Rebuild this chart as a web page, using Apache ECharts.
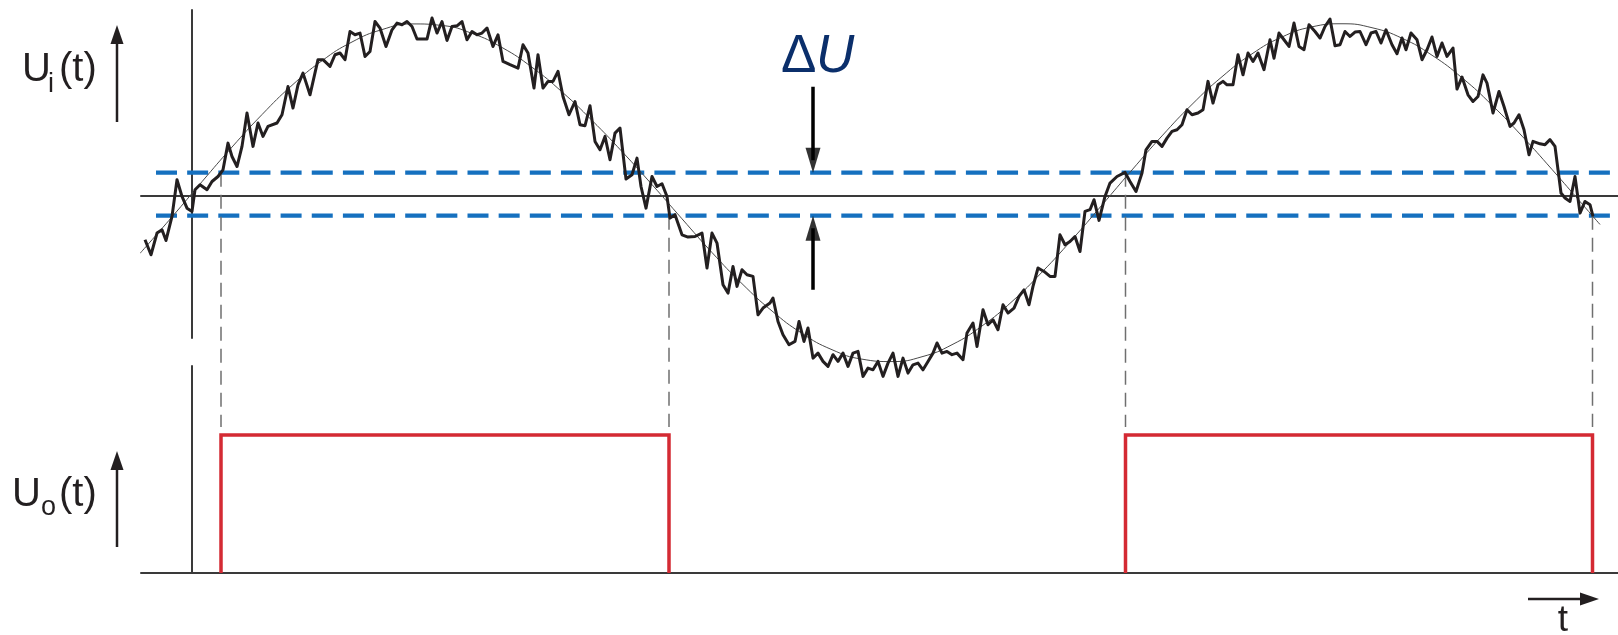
<!DOCTYPE html>
<html>
<head>
<meta charset="utf-8">
<script src="https://cdn.jsdelivr.net/npm/echarts@6/dist/echarts.min.js"></script>
<style>
html,body{margin:0;padding:0;background:#ffffff;}
#chart{width:1618px;height:635px;}
</style>
</head>
<body>
<div id="chart"></div>
<script>
// ---------- DATA (time t in arbitrary units, voltage U in % of amplitude) ----------
// noisy input signal U_i(t): vertices
const noisyT = [
-4.7,-4.1,-3.5,-3.0,-2.6,-2.0,-1.5,-1.0,-0.5,0.0,0.3,0.8,1.5,2.0,2.6,3.1,3.6,4.0,4.5,5.0,
5.5,6.1,6.6,7.1,7.6,8.5,9.0,9.6,10.1,10.6,11.1,11.8,12.6,13.1,13.8,14.3,14.8,15.3,15.8,16.3,
16.8,17.3,17.8,18.3,18.8,19.4,20.0,20.5,21.0,21.5,22.0,22.5,23.5,24.0,24.5,25.0,25.5,26.0,26.5,27.0,
27.5,28.0,28.5,29.0,29.5,30.1,30.6,31.1,31.8,32.6,33.1,33.6,34.2,34.6,35.1,35.6,
36.1,36.6,37.1,37.7,38.3,38.8,39.3,39.8,40.3,40.8,41.3,41.8,42.3,42.8,43.4,44.0,44.5,44.9,45.4,46.0,
46.5,47.0,47.5,47.8,48.3,49.0,49.6,50.3,51.0,51.5,52.0,52.5,53.1,53.6,54.1,54.5,55.0,55.5,56.1,56.6,
57.1,57.8,58.1,58.6,59.1,59.7,60.3,60.7,61.2,61.6,62.1,62.6,63.1,63.6,64.1,64.6,65.1,65.6,66.1,66.6,
67.1,67.6,68.1,68.6,69.1,69.6,70.1,70.6,71.1,71.6,72.1,72.6,73.1,73.6,74.1,74.5,75.0,
75.5,76.0,76.5,77.1,77.5,78.1,78.5,79.1,79.6,80.1,80.6,81.1,81.6,82.2,82.7,83.2,83.7,84.1,84.6,85.2,
85.8,86.3,86.8,87.3,87.8,88.3,88.8,89.3,89.8,90.2,90.7,91.3,91.8,92.5,93.3,93.8,94.4,95.0,95.4,96.0,
96.5,97.0,97.5,98.0,98.5,99.0,99.5,100.0,100.6,101.1,101.6,102.1,102.6,103.1,103.5,104.1,104.6,105.1,105.6,106.1,
106.6,107.2,107.8,108.2,108.7,109.2,109.7,110.2,110.7,
111.2,111.7,112.3,112.8,113.3,113.8,114.3,114.8,115.3,115.8,116.3,116.8,117.4,117.9,118.4,118.9,119.4,120.0,120.5,121.0,
121.4,121.9,122.5,123.0,123.5,124.0,124.5,125.0,125.5,126.1,126.5,127.0,127.6,128.1,128.6,129.1,129.5,130.1,130.7,131.2,
131.8,132.2,132.7,133.2,133.7,134.1,134.8,135.3,135.8,136.3,136.9,137.3,137.8,138.3,138.8,139.3,139.8,140.1
];
const noisyU = [
-25.6,-34.3,-21.7,-19.8,-26.0,-12.0,9.3,-0.4,-7.2,-9.1,3.5,6.4,3.5,8.3,11.2,15.1,30.6,22.8,17.0,28.7,
48.1,28.7,42.3,34.5,40.3,42.3,47.1,63.5,51.0,64.5,71.3,58.7,79.1,79.1,75.2,82.0,83.0,79.1,95.5,93.6,
94.6,81.0,83.9,101.3,97.5,86.8,96.5,100.4,99.4,101.3,98.4,91.1,91.1,103.3,94.6,101.3,90.3,98.4,98.8,101.3,
90.7,95.5,93.6,94.6,97.5,86.8,93.6,78.1,76.2,74.2,87.8,83.0,62.6,82.0,62.6,66.5,
66.5,72.3,57.7,47.1,54.8,41.3,40.7,52.3,31.6,26.7,34.5,20.9,36.4,39.4,9.7,12.2,21.9,5.4,-7.2,11.2,
5.4,7.0,-0.4,-13.0,-11.0,-22.7,-24.0,-23.7,-21.7,-42.0,-21.7,-27.5,-51.7,-56.6,-41.1,-52.7,-43.0,-45.9,-46.9,-69.2,
-65.3,-62.4,-59.5,-73.1,-80.8,-86.6,-84.7,-73.1,-84.7,-76.9,-94.4,-91.5,-96.3,-99.2,-92.4,-96.3,-91.5,-99.2,-91.5,-90.5,
-105.0,-100.2,-101.2,-96.3,-105.0,-97.3,-91.5,-105.0,-94.4,-103.1,-98.3,-97.3,-101.2,-96.3,-91.5,-85.6,-91.5,
-90.5,-92.4,-91.5,-95.3,-79.8,-74.0,-87.6,-66.3,-75.0,-72.1,-77.9,-63.4,-68.2,-65.3,-58.5,-54.7,-63.4,-52.7,-42.0,-44.0,
-46.9,-46.9,-22.7,-28.5,-26.6,-23.7,-32.4,-9.1,-8.1,-2.3,-14.3,-0.4,7.4,11.2,13.6,8.3,2.5,13.2,26.7,31.6,
31.6,28.7,33.5,37.4,38.4,41.3,50.0,47.1,48.1,50.0,66.5,53.9,64.5,66.5,64.5,64.5,82.0,70.3,83.0,78.1,
83.0,73.3,90.7,80.0,94.6,90.7,86.8,100.4,86.8,
84.9,99.4,95.5,91.7,98.4,102.7,87.2,87.8,95.5,92.6,95.2,95.5,87.8,94.6,95.5,88.8,96.5,87.8,82.6,91.7,
84.9,94.6,90.7,79.1,84.9,92.3,81.0,88.8,81.0,85.9,62.0,69.0,58.7,54.8,57.7,70.3,65.5,48.1,60.6,51.9,
40.3,42.3,47.1,38.4,23.8,31.6,30.2,29.7,32.6,28.7,1.6,-1.3,-3.3,11.2,-10.1,-3.3,-5.2,-12.0
];
// underlying clean sine (thin line)
const sineT = [-5.2,-2,1,4,7,10,13,16,19,22,25,28,31,34,37,40,43,46,49,52,55,58,61,64,67,70,73,76,79,82,85,88,91,94,97,100,103,106,109,112,115,118,121,124,127,130,133,136,139,140.8];
const sineU = [-33.5,-12.3,8.2,28.3,47.2,64.2,78.5,89.4,96.6,99.9,99.0,94.4,86.2,74.7,60.4,43.8,25.7,6.5,-13.4,-33.0,-51.1,-67.0,-80.0,-89.5,-95.0,-96.4,-93.6,-86.6,-75.7,-61.5,-44.4,-25.5,-5.4,15.0,34.8,53.1,69.2,82.5,92.3,98.2,100,97.7,91.6,81.7,68.6,52.7,34.7,15.3,-4.7,-16.7];
// Schmitt trigger thresholds (hysteresis ΔU)
const thresholdHigh = 13.4;
const thresholdLow = -11.6;
const thresholdSpanT = [-3.6, 141.8];
// switching instants and the threshold that triggered them
const switchT = [2.9, 47.7, 93.35, 140.05];
const switchLevel = [thresholdHigh, thresholdLow, thresholdHigh, thresholdLow];
// output U_o(t)
const outT = [2.9, 2.9, 47.7, 47.7, null, 93.35, 93.35, 140.05, 140.05];
const outU = [0, 1, 1, 0, null, 0, 1, 1, 0];

// ---------- CHART ----------
const zip = (a, b) => a.map((v, i) => [v, b[i]]);
const guideBottom = -134.5;   // lower end of the dashed guides (in U_i units)
const guideData = [];
switchT.forEach((t, i) => {
  if (i > 0) guideData.push([null, null]);
  guideData.push([t, switchLevel[i]]);
  guideData.push([t, guideBottom]);
});
// ΔU arrows: shafts and heads (head length 25 px ≈ 14.5 units)
const arrowT = 62.1;
const headHalf = 7.3;
const arrowShafts = [
  [arrowT, 63.4], [arrowT, thresholdHigh + headHalf], [null, null],
  [arrowT, -54.7], [arrowT, thresholdLow - headHalf]
];
const arrowHeads = [
  {value: [arrowT, thresholdHigh + headHalf], symbolRotate: 180},
  {value: [arrowT, thresholdLow - headHalf], symbolRotate: 0}
];
const axisStyle = {color: '#3a3a3a', width: 2};
const hiddenParts = {axisTick: {show: false}, axisLabel: {show: false}, splitLine: {show: false}};
const textColor = '#231f20';
const fam = '"Liberation Sans", Arial, Helvetica, sans-serif';

const chart = echarts.init(document.getElementById('chart'), null, {renderer: 'canvas'});
chart.setOption({
  animation: false,
  backgroundColor: '#ffffff',
  grid: [
    {left: 141, right: 0, top: 10, height: 328, outerBoundsMode: 'none', containLabel: false},
    {left: 141, right: 0, top: 366, height: 207, outerBoundsMode: 'none', containLabel: false}
  ],
  xAxis: [
    Object.assign({gridIndex: 0, type: 'value', min: -5.1, max: 142.6, axisLine: {show: true, onZero: true, lineStyle: axisStyle}}, hiddenParts),
    Object.assign({gridIndex: 1, type: 'value', min: -5.1, max: 142.6, axisLine: {show: true, onZero: true, lineStyle: axisStyle}}, hiddenParts)
  ],
  yAxis: [
    Object.assign({gridIndex: 0, type: 'value', min: -82.7, max: 108, axisLine: {show: true, onZero: true, lineStyle: axisStyle}}, hiddenParts),
    Object.assign({gridIndex: 1, type: 'value', min: 0, max: 1.5, axisLine: {show: true, onZero: true, lineStyle: axisStyle}}, hiddenParts)
  ],
  series: [
    {
      type: 'line', xAxisIndex: 0, yAxisIndex: 0, silent: true, z: 2,
      data: zip(thresholdSpanT, [thresholdHigh, thresholdHigh]),
      symbol: 'none', lineStyle: {color: '#1570bf', width: 4.3, type: [21, 10.15]}
    },
    {
      type: 'line', xAxisIndex: 0, yAxisIndex: 0, silent: true, z: 2,
      data: zip(thresholdSpanT, [thresholdLow, thresholdLow]),
      symbol: 'none', lineStyle: {color: '#1570bf', width: 4.3, type: [21, 10.15]}
    },
    {
      type: 'line', xAxisIndex: 0, yAxisIndex: 0, silent: true, z: 2, clip: false,
      data: guideData, connectNulls: false,
      symbol: 'none', lineStyle: {color: '#6f6f6f', width: 1.5, type: [14, 8]}
    },
    {
      type: 'line', xAxisIndex: 0, yAxisIndex: 0, silent: true, z: 3, clip: false,
      data: arrowShafts, connectNulls: false,
      symbol: 'none', lineStyle: {color: '#000000', width: 3.5}
    },
    {
      type: 'scatter', xAxisIndex: 0, yAxisIndex: 0, silent: true, z: 3, clip: false,
      data: arrowHeads, symbol: 'triangle', symbolSize: [15, 25],
      itemStyle: {color: '#000000'}
    },
    {
      type: 'line', xAxisIndex: 0, yAxisIndex: 0, silent: true, z: 3, clip: false,
      data: zip(sineT, sineU), smooth: true,
      symbol: 'none', lineStyle: {color: '#4a4a4a', width: 1}
    },
    {
      type: 'line', xAxisIndex: 0, yAxisIndex: 0, silent: true, z: 4, clip: false,
      data: zip(noisyT, noisyU),
      symbol: 'none', lineStyle: {color: '#231f20', width: 3, join: 'round'}
    },
    {
      type: 'line', xAxisIndex: 1, yAxisIndex: 1, silent: true, z: 5, clip: false,
      data: zip(outT, outU), connectNulls: false,
      symbol: 'none', lineStyle: {color: '#d42a33', width: 3.5, join: 'miter'}
    }
  ],
  graphic: [
    // U_i(t) label + arrow
    {type: 'text', x: 22, y: 70, style: {text: 'U', fontSize: 40, fontFamily: fam, fill: textColor, verticalAlign: 'middle'}},
    {type: 'text', x: 48, y: 85, style: {text: 'i', fontSize: 27, fontFamily: fam, fill: textColor, verticalAlign: 'middle'}},
    {type: 'text', x: 59, y: 70, style: {text: '(t)', fontSize: 40, fontFamily: fam, fill: textColor, verticalAlign: 'middle'}},
    {type: 'line', shape: {x1: 117, y1: 122, x2: 117, y2: 40}, style: {stroke: textColor, lineWidth: 2.5}},
    {type: 'polygon', shape: {points: [[117, 25], [110.5, 44], [123.5, 44]]}, style: {fill: textColor}},
    // U_o(t) label + arrow
    {type: 'text', x: 12, y: 495, style: {text: 'U', fontSize: 40, fontFamily: fam, fill: textColor, verticalAlign: 'middle'}},
    {type: 'text', x: 41, y: 508, style: {text: 'o', fontSize: 27, fontFamily: fam, fill: textColor, verticalAlign: 'middle'}},
    {type: 'text', x: 59, y: 495, style: {text: '(t)', fontSize: 40, fontFamily: fam, fill: textColor, verticalAlign: 'middle'}},
    {type: 'line', shape: {x1: 117, y1: 547, x2: 117, y2: 466}, style: {stroke: textColor, lineWidth: 2.5}},
    {type: 'polygon', shape: {points: [[117, 451], [110.5, 470], [123.5, 470]]}, style: {fill: textColor}},
    // t axis label + arrow
    {type: 'line', shape: {x1: 1528, y1: 599, x2: 1584, y2: 599}, style: {stroke: textColor, lineWidth: 2.5}},
    {type: 'polygon', shape: {points: [[1599, 599], [1580, 592.5], [1580, 605.5]]}, style: {fill: textColor}},
    {type: 'text', x: 1563, y: 621, style: {text: 't', fontSize: 37, fontFamily: fam, fill: textColor, align: 'center', verticalAlign: 'middle'}},
    // ΔU annotation
    {type: 'text', x: 781, y: 57, style: {text: 'Δ', fontSize: 53, fontFamily: fam, fill: '#0b2f6b', verticalAlign: 'middle'}},
    {type: 'text', x: 816, y: 57, style: {text: 'U', fontSize: 53, fontStyle: 'italic', fontFamily: fam, fill: '#0b2f6b', verticalAlign: 'middle'}}
  ]
});
</script>
</body>
</html>
